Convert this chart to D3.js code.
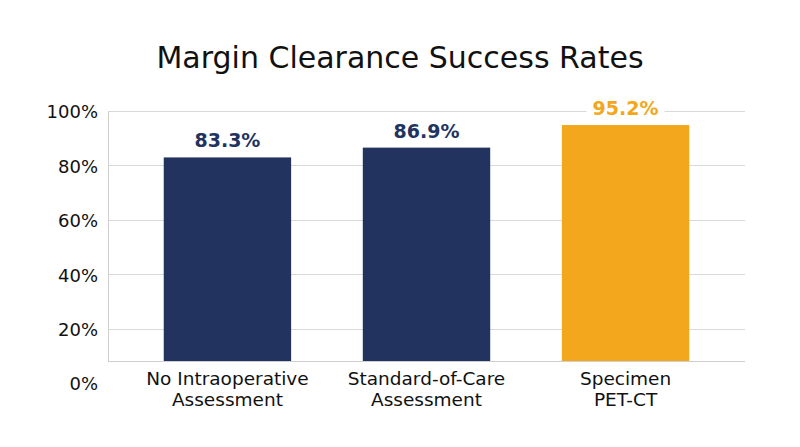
<!DOCTYPE html>
<html>
<head>
<meta charset="utf-8">
<script src="https://cdn.jsdelivr.net/npm/d3@7"></script>
<style>
  body { margin: 0; background: #fff; }
  text { font-family: "DejaVu Sans", sans-serif; }
</style>
</head>
<body>
<svg class="chart"></svg>
<script>
var categories = ["No Intraoperative Assessment", "Standard-of-Care Assessment", "Specimen PET-CT"];
var labelLines = [["No Intraoperative", "Assessment"], ["Standard-of-Care", "Assessment"], ["Specimen", "PET-CT"]];
var values = [83.3, 86.9, 95.2];
var barColors = ["#22335f", "#22335f", "#f2a71c"];
var yTicks = [0, 20, 40, 60, 80, 100];

var width = 800,
    height = 447;
var plotLeft = 108, plotRight = 745, plotTop = 112, zeroY = 384, floorY = 361;

var svg = d3.select(".chart")
    .attr("width", width)
    .attr("height", height);

var x = d3.scaleBand()
    .domain(categories)
    .range([plotLeft, plotRight])
    .paddingInner(0.36)
    .paddingOuter(0.28);

var y = d3.scaleLinear()
    .domain([0, 100])
    .range([zeroY, plotTop]);

// title
svg.append("text")
    .attr("x", 400)
    .attr("y", 68)
    .attr("text-anchor", "middle")
    .style("font-size", "30px")
    .style("fill", "#111")
    .text("Margin Clearance Success Rates");

// gridlines
svg.selectAll(".grid")
    .data(yTicks.filter(function(d) { return d > 0; }))
    .enter().append("line")
    .attr("x1", plotLeft)
    .attr("x2", plotRight)
    .attr("y1", function(d) { return Math.round(y(d)) - 0.5; })
    .attr("y2", function(d) { return Math.round(y(d)) - 0.5; })
    .style("stroke", "#d9d9d9")
    .style("stroke-width", 1);

// axis lines
svg.append("line")
    .attr("x1", plotLeft + 0.5).attr("x2", plotLeft + 0.5)
    .attr("y1", plotTop - 1).attr("y2", floorY)
    .style("stroke", "#cfcfcf");
svg.append("line")
    .attr("x1", plotLeft).attr("x2", plotRight)
    .attr("y1", floorY + 0.5).attr("y2", floorY + 0.5)
    .style("stroke", "#cfcfcf");

// y tick labels
svg.selectAll(".ytick")
    .data(yTicks)
    .enter().append("text")
    .attr("x", 98)
    .attr("y", function(d) { return y(d); })
    .attr("dy", "0.35em")
    .attr("text-anchor", "end")
    .style("font-size", "18px")
    .style("fill", "#111")
    .text(function(d) { return d + "%"; });

// bars
svg.selectAll(".bar")
    .data(values)
    .enter().append("rect")
    .attr("x", function(d, i) { return x(categories[i]); })
    .attr("y", function(d) { return y(d); })
    .attr("width", x.bandwidth())
    .attr("height", function(d) { return floorY - y(d); })
    .style("fill", function(d, i) { return barColors[i]; });

// value labels with white backing
var vl = svg.selectAll(".val")
    .data(values)
    .enter().append("g")
    .attr("transform", function(d, i) {
      return "translate(" + (x(categories[i]) + x.bandwidth() / 2) + "," + (y(d) - 10) + ")";
    });
vl.append("rect")
    .attr("x", -39).attr("y", -18)
    .attr("width", 78).attr("height", 20)
    .style("fill", "#fff");
vl.append("text")
    .attr("text-anchor", "middle")
    .style("font-size", "19px")
    .style("font-weight", "bold")
    .style("fill", function(d, i) { return barColors[i]; })
    .text(function(d) { return d.toFixed(1) + "%"; });

// category labels
var cl = svg.selectAll(".cat")
    .data(labelLines)
    .enter().append("text")
    .attr("x", function(d, i) { return x(categories[i]) + x.bandwidth() / 2; })
    .attr("y", 385)
    .attr("text-anchor", "middle")
    .style("font-size", "18.5px")
    .style("fill", "#111");
cl.selectAll("tspan")
    .data(function(d) { return d; })
    .enter().append("tspan")
    .attr("x", function() { return d3.select(this.parentNode).attr("x"); })
    .attr("dy", function(d, i) { return i === 0 ? 0 : 20.5; })
    .text(function(d) { return d; });
</script>
</body>
</html>
